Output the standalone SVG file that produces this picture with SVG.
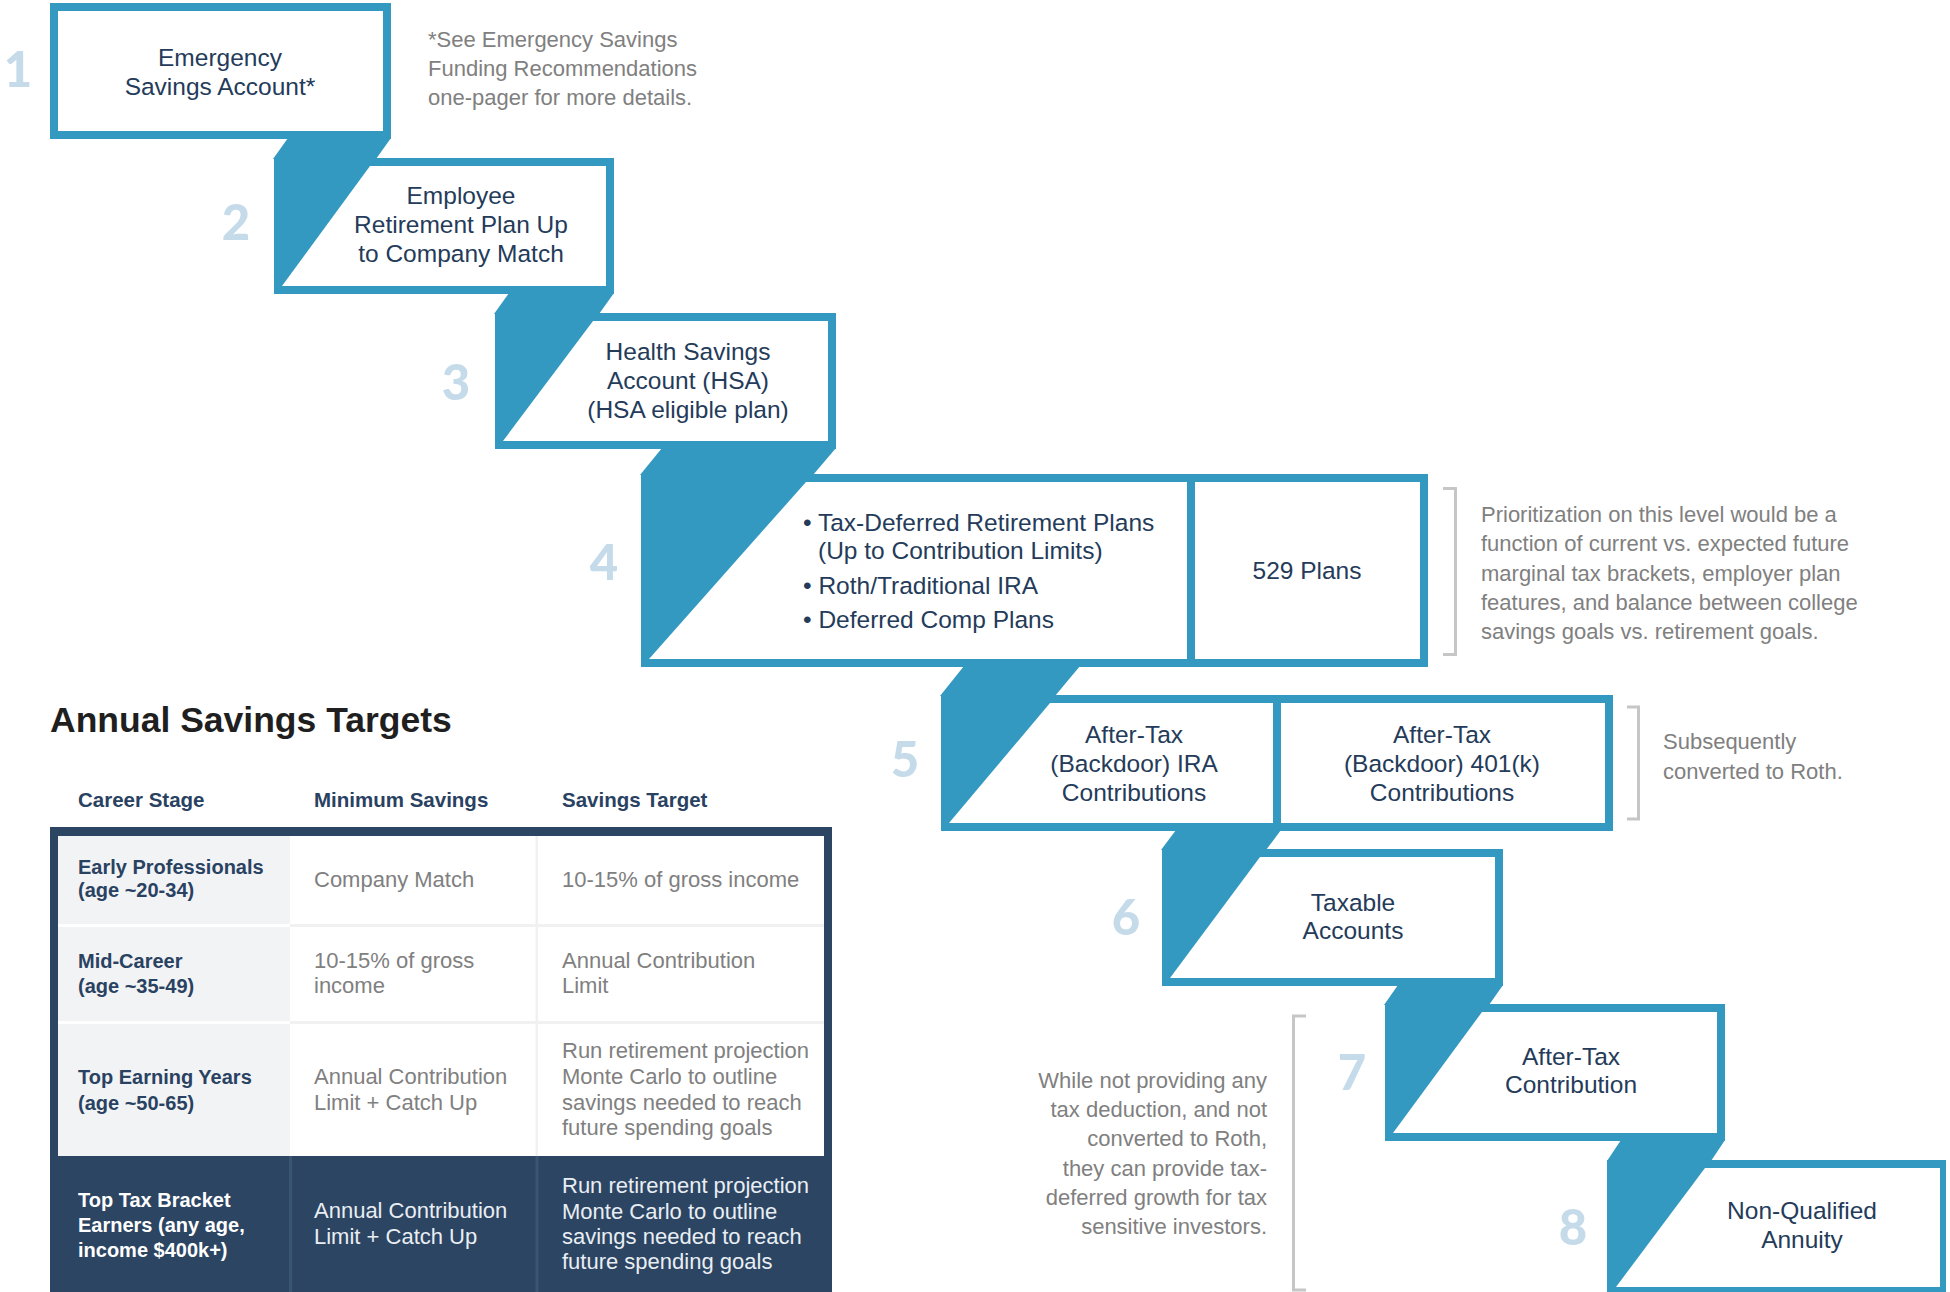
<svg xmlns="http://www.w3.org/2000/svg" width="1950" height="1292" viewBox="0 0 1950 1292">
<style>
.b{fill:#3399c0}
.w{fill:#ffffff}
.t{font-family:"Liberation Sans",Arial,sans-serif;font-size:24.5px;fill:#243b5a;text-anchor:middle}
.tl{font-family:"Liberation Sans",Arial,sans-serif;font-size:24.5px;fill:#243b5a}
.n{font-family:Lato,"Liberation Sans",Arial,sans-serif;font-weight:900;font-size:49px;fill:#c5dbea;text-anchor:middle}
.g{font-family:"Liberation Sans",Arial,sans-serif;font-size:22px;fill:#808080}
.ge{font-family:"Liberation Sans",Arial,sans-serif;font-size:22px;fill:#808080;text-anchor:end}
.br{fill:none;stroke:#c6c6c6;stroke-width:3}
.title{font-family:"Liberation Sans",Arial,sans-serif;font-weight:bold;font-size:35.5px;fill:#1f1f1f}
.th{font-family:"Liberation Sans",Arial,sans-serif;font-weight:bold;font-size:20.5px;fill:#2a4262}
.lab{font-family:"Liberation Sans",Arial,sans-serif;font-weight:bold;font-size:20px;fill:#2a4262}
.labw{font-family:"Liberation Sans",Arial,sans-serif;font-weight:bold;font-size:20px;fill:#ffffff}
.cell{font-family:"Liberation Sans",Arial,sans-serif;font-size:22px;fill:#808080}
.cellw{font-family:"Liberation Sans",Arial,sans-serif;font-size:22px;fill:#e9eef4}
</style>
<rect width="1950" height="1292" fill="#ffffff"/>

<g id="connectors">
<polygon class="b" points="288,138 391,138 376,159 273,159"/>
<polygon class="b" points="509,293 614,293 599,314 494,314"/>
<polygon class="b" points="662,448 836,448 813,475 640,475"/>
<polygon class="b" points="964,666 1080,666 1055,696 940,696"/>
<polygon class="b" points="1176,830 1281,830 1266,850 1161,850"/>
<polygon class="b" points="1398,985 1503,985 1489,1005 1384,1005"/>
<polygon class="b" points="1621,1140 1725,1140 1711,1161 1607,1161"/>
</g>

<g id="node1">
<rect class="b" x="50" y="3" width="341" height="136"/>
<rect class="w" x="58" y="11" width="325" height="120"/>
<text class="t" x="220" y="66">Emergency</text>
<text class="t" x="220" y="95">Savings Account*</text>
<text class="n" x="18" y="87">1</text>
</g>

<g id="note1">
<text class="g" x="428" y="47">*See Emergency Savings</text>
<text class="g" x="428" y="76">Funding Recommendations</text>
<text class="g" x="428" y="105">one-pager for more details.</text>
</g>

<g id="node2">
<rect class="b" x="274" y="158" width="340" height="136"/>
<polygon class="w" points="370,166 606,166 606,286 282,286"/>
<text class="t" x="461" y="204">Employee</text>
<text class="t" x="461" y="233">Retirement Plan Up</text>
<text class="t" x="461" y="262">to Company Match</text>
<text class="n" x="236" y="240">2</text>
</g>

<g id="node3">
<rect class="b" x="495" y="313" width="341" height="136"/>
<polygon class="w" points="593,321 828,321 828,441 503,441"/>
<text class="t" x="688" y="360">Health Savings</text>
<text class="t" x="688" y="389">Account (HSA)</text>
<text class="t" x="688" y="418">(HSA eligible plan)</text>
<text class="n" x="456" y="400">3</text>
</g>

<g id="node4">
<rect class="b" x="641" y="474" width="787" height="193"/>
<polygon class="w" points="806,482 1187,482 1187,659 649,659"/>
<rect class="w" x="1195" y="482" width="225" height="177"/>
<text class="tl" x="803" y="531">• Tax-Deferred Retirement Plans</text>
<text class="tl" x="818" y="559">(Up to Contribution Limits)</text>
<text class="tl" x="803" y="594">• Roth/Traditional IRA</text>
<text class="tl" x="803" y="628">• Deferred Comp Plans</text>
<text class="t" x="1307" y="579">529 Plans</text>
<text class="n" x="604" y="580">4</text>
</g>

<g id="note4">
<polyline class="br" points="1443,488.5 1455.5,488.5 1455.5,654.5 1443,654.5"/>
<text class="g" x="1481" y="522">Prioritization on this level would be a</text>
<text class="g" x="1481" y="551">function of current vs. expected future</text>
<text class="g" x="1481" y="581">marginal tax brackets, employer plan</text>
<text class="g" x="1481" y="610">features, and balance between college</text>
<text class="g" x="1481" y="639">savings goals vs. retirement goals.</text>
</g>

<g id="node5">
<rect class="b" x="941" y="695" width="672" height="136"/>
<polygon class="w" points="1050,703 1273,703 1273,823 949,823"/>
<rect class="w" x="1281" y="703" width="324" height="120"/>
<text class="t" x="1134" y="743">After-Tax</text>
<text class="t" x="1134" y="772">(Backdoor) IRA</text>
<text class="t" x="1134" y="801">Contributions</text>
<text class="t" x="1442" y="743">After-Tax</text>
<text class="t" x="1442" y="772">(Backdoor) 401(k)</text>
<text class="t" x="1442" y="801">Contributions</text>
<text class="n" x="905" y="777">5</text>
</g>

<g id="note5">
<polyline class="br" points="1627,707 1638.5,707 1638.5,819 1627,819"/>
<text class="g" x="1663" y="749">Subsequently</text>
<text class="g" x="1663" y="779">converted to Roth.</text>
</g>

<g id="node6">
<rect class="b" x="1162" y="849" width="341" height="137"/>
<polygon class="w" points="1260,857 1495,857 1495,978 1170,978"/>
<text class="t" x="1353" y="911">Taxable</text>
<text class="t" x="1353" y="939">Accounts</text>
<text class="n" x="1126" y="935">6</text>
</g>

<g id="node7">
<rect class="b" x="1385" y="1004" width="340" height="137"/>
<polygon class="w" points="1482,1012 1717,1012 1717,1133 1393,1133"/>
<text class="t" x="1571" y="1065">After-Tax</text>
<text class="t" x="1571" y="1093">Contribution</text>
<text class="n" x="1352" y="1090">7</text>
</g>

<g id="note7">
<polyline class="br" points="1306,1016 1293.5,1016 1293.5,1290 1306,1290"/>
<text class="ge" x="1267" y="1088">While not providing any</text>
<text class="ge" x="1267" y="1117">tax deduction, and not</text>
<text class="ge" x="1267" y="1146">converted to Roth,</text>
<text class="ge" x="1267" y="1176">they can provide tax-</text>
<text class="ge" x="1267" y="1205">deferred growth for tax</text>
<text class="ge" x="1267" y="1234">sensitive investors.</text>
</g>

<g id="node8">
<rect class="b" x="1607" y="1160" width="339" height="140"/>
<polygon class="w" points="1705,1168 1940,1168 1940,1287 1616,1287"/>
<text class="t" x="1802" y="1219">Non-Qualified</text>
<text class="t" x="1802" y="1248">Annuity</text>
<text class="n" x="1573" y="1245">8</text>
</g>

<g id="table">
<text class="title" x="50" y="732">Annual Savings Targets</text>
<text class="th" x="78" y="807">Career Stage</text>
<text class="th" x="314" y="807">Minimum Savings</text>
<text class="th" x="562" y="807">Savings Target</text>
<rect x="50" y="827" width="782" height="470" fill="#2c4562"/>
<rect x="58" y="836" width="766" height="320" fill="#ffffff"/>
<rect x="58" y="836" width="232" height="88" fill="#f2f3f5"/>
<rect x="58" y="927" width="232" height="94" fill="#f2f3f5"/>
<rect x="58" y="1024" width="232" height="132" fill="#f2f3f5"/>
<rect x="290" y="924" width="534" height="3" fill="#f1f1f1"/>
<rect x="290" y="1021" width="534" height="3" fill="#f1f1f1"/>
<rect x="535.5" y="836" width="2.5" height="320" fill="#f1f1f1"/>
<rect x="289" y="1156" width="3" height="140" fill="#3a5573"/>
<rect x="535.5" y="1156" width="3" height="140" fill="#3a5573"/>

<text class="lab" x="78" y="874">Early Professionals</text>
<text class="lab" x="78" y="897">(age ~20-34)</text>
<text class="cell" x="314" y="887">Company Match</text>
<text class="cell" x="562" y="887">10-15% of gross income</text>

<text class="lab" x="78" y="968">Mid-Career</text>
<text class="lab" x="78" y="993">(age ~35-49)</text>
<text class="cell" x="314" y="968">10-15% of gross</text>
<text class="cell" x="314" y="993">income</text>
<text class="cell" x="562" y="968">Annual Contribution</text>
<text class="cell" x="562" y="993">Limit</text>

<text class="lab" x="78" y="1084">Top Earning Years</text>
<text class="lab" x="78" y="1110">(age ~50-65)</text>
<text class="cell" x="314" y="1084">Annual Contribution</text>
<text class="cell" x="314" y="1110">Limit + Catch Up</text>
<text class="cell" x="562" y="1058">Run retirement projection</text>
<text class="cell" x="562" y="1084">Monte Carlo to outline</text>
<text class="cell" x="562" y="1110">savings needed to reach</text>
<text class="cell" x="562" y="1135">future spending goals</text>

<text class="labw" x="78" y="1207">Top Tax Bracket</text>
<text class="labw" x="78" y="1232">Earners (any age,</text>
<text class="labw" x="78" y="1257">income $400k+)</text>
<text class="cellw" x="314" y="1218">Annual Contribution</text>
<text class="cellw" x="314" y="1244">Limit + Catch Up</text>
<text class="cellw" x="562" y="1193">Run retirement projection</text>
<text class="cellw" x="562" y="1219">Monte Carlo to outline</text>
<text class="cellw" x="562" y="1244">savings needed to reach</text>
<text class="cellw" x="562" y="1269">future spending goals</text>
</g>
</svg>
